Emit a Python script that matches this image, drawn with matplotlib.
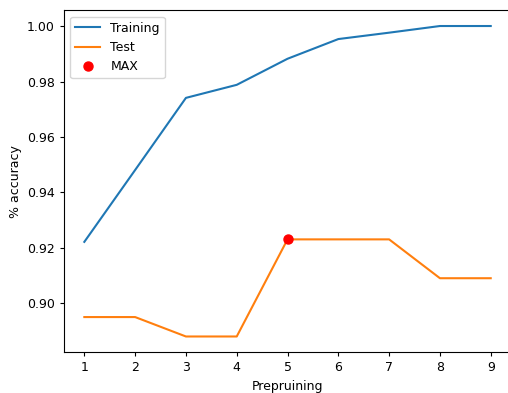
import matplotlib
matplotlib.use("Agg")
import matplotlib.pyplot as plt

depths = [1, 2, 3, 4, 5, 6, 7, 8, 9]
train_acc = [0.9222, 0.9481, 0.9741, 0.9788, 0.9882, 0.9953, 0.9976, 1.0, 1.0]
test_acc = [0.8951, 0.8951, 0.8881, 0.8881, 0.9231, 0.9231, 0.9231, 0.9091, 0.9091]
best_depth = 5
best_acc = 0.9231


def main():
    plt.rcParams["font.size"] = 9
    plt.rcParams["xtick.major.size"] = 3.0
    plt.rcParams["ytick.major.size"] = 3.0

    fig = plt.figure(figsize=(5.08, 3.93), dpi=100)
    ax = fig.add_axes([0.126, 0.1043, 0.88, 0.869])

    ax.plot(depths, train_acc, label="Training")
    ax.plot(depths, test_acc, label="Test")
    ax.plot(best_depth, best_acc, "ro", markersize=6.5, label="MAX")

    ax.set_xlabel("Prepruining")
    ax.set_ylabel("% accuracy")
    ax.set_xticks(depths)
    ax.legend(loc="upper left")

    fig.savefig("out.png", dpi=100)
    plt.close(fig)


if __name__ == "__main__":
    main()
